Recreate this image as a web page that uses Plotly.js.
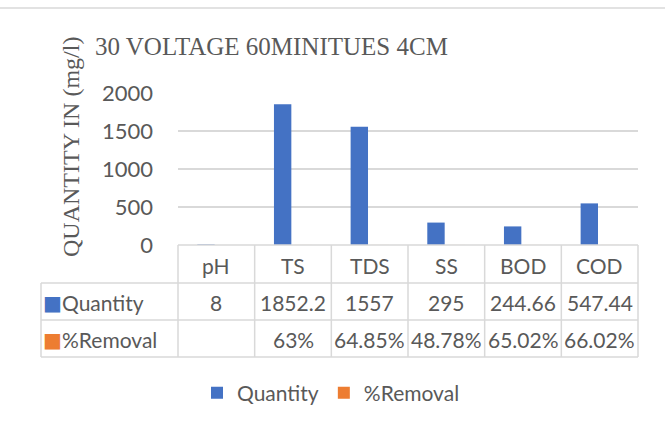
<!DOCTYPE html>
<html>
<head>
<meta charset="utf-8">
<script src="https://cdn.plot.ly/plotly-3.0.1.min.js"></script>
<style>html,body{margin:0;padding:0;background:#fff;}#chart{width:665px;height:427px;}</style>
</head>
<body>
<div id="chart"></div>
<script>
const categories = ['pH', 'TS', 'TDS', 'SS', 'BOD', 'COD'];
const quantity = [8, 1852.2, 1557, 295, 244.66, 547.44];
const removal = [null, 0.63, 0.6485, 0.4878, 0.6502, 0.6602];
const seriesNames = ['Quantity', '%Removal'];
const seriesColors = ['#4472C4', '#ED7D31'];
const yTicks = [0, 500, 1000, 1500, 2000];

const W = 665, H = 427;
const M = {l: 178, r: 27, t: 93, b: 182};
const PW = W - M.l - M.r, PH = H - M.t - M.b;
const px = x => (x - M.l) / PW;           // pixel -> paper x
const py = y => (H - M.b - y) / PH;       // pixel -> paper y
const textColor = '#595959';
const lineColor = '#d9d9d9';
const sans = 'Lato, "Liberation Sans", sans-serif';
const serif = '"Liberation Serif", "DejaVu Serif", serif';

const qLabels = quantity.map(v => String(v));
const rLabels = removal.map(v => v == null ? '' : String(+(v * 100).toFixed(2)) + '%');

const traces = [
  {type: 'bar', name: seriesNames[0], x: categories, y: quantity, marker: {color: seriesColors[0]}, hoverinfo: 'x+y'},
  {type: 'bar', name: seriesNames[1], x: categories, y: removal, marker: {color: seriesColors[1]}, hoverinfo: 'x+y'}
];

const n = categories.length;
const rowY = [245, 283, 320, 357];
const leftX = 41;
const shapes = [];
const line = (x0, y0, x1, y1) => shapes.push({type: 'line', xref: 'paper', yref: 'paper',
  x0: x0, y0: y0, x1: x1, y1: y1, line: {color: lineColor, width: 1.5}});
// top border of the chart frame
line(px(0), py(8), px(W), py(8));
// table horizontal lines
line(0, py(rowY[0]), 1, py(rowY[0]));
for (let r = 1; r < rowY.length; r++) line(px(leftX), py(rowY[r]), 1, py(rowY[r]));
// table vertical lines
line(px(leftX), py(rowY[1]), px(leftX), py(rowY[3]));
for (let i = 0; i <= n; i++) line(i / n, py(rowY[0]), i / n, py(rowY[3]));

const annotations = [];
const cellFont = {family: sans, size: 21, color: textColor};
const rowCenter = r => py((rowY[r] + rowY[r + 1]) / 2 + 1);
const cell = (x, xref, y, text, xanchor, font) => annotations.push({xref: xref, yref: 'paper', x: x, y: y,
  xanchor: xanchor || 'center', yanchor: 'middle', text: text, showarrow: false, font: font || cellFont});
categories.forEach((c, i) => {
  cell(c, 'x', rowCenter(0), c);
  cell(c, 'x', rowCenter(1), qLabels[i]);
  cell(c, 'x', rowCenter(2), rLabels[i]);
});
seriesNames.forEach((s, k) => {
  cell(px(52), 'paper', rowCenter(k + 1), '■', 'center',
    {family: '"DejaVu Sans", sans-serif', size: 20, color: seriesColors[k]});
  cell(px(60), 'paper', rowCenter(k + 1), s, 'left');
});
// y-axis title
annotations.push({xref: 'paper', yref: 'paper', x: px(71), y: py(147), xanchor: 'center', yanchor: 'middle',
  textangle: -90, text: 'QUANTITY IN (mg/l)', showarrow: false,
  font: {family: serif, size: 24, color: textColor}});

const layout = {
  width: W, height: H,
  margin: M,
  paper_bgcolor: '#fff', plot_bgcolor: '#fff',
  title: {text: '30 VOLTAGE 60MINITUES 4CM', xref: 'container', yref: 'container',
    x: 95 / W, xanchor: 'left', y: 1 - 46 / H, yanchor: 'middle',
    font: {family: serif, size: 25, color: textColor}},
  barmode: 'group', bargap: 0.46, bargroupgap: 0.16,
  xaxis: {type: 'category', showticklabels: false, showgrid: false, zeroline: false, showline: false,
    range: [-0.5, n - 0.5], fixedrange: true},
  yaxis: {range: [0, 2000], tickvals: yTicks, showgrid: true, gridcolor: lineColor, gridwidth: 1.5,
    zeroline: false, showline: false, ticks: '', ticklabelstandoff: 24,
    tickfont: {family: sans, size: 22, color: textColor}, fixedrange: true},
  showlegend: true,
  legend: {orientation: 'h', x: px(331), xanchor: 'center', y: py(393), yanchor: 'middle',
    font: {family: sans, size: 21, color: textColor}, itemwidth: 30, traceorder: 'normal'},
  shapes: shapes,
  annotations: annotations
};

Plotly.newPlot('chart', traces, layout, {displayModeBar: false, staticPlot: true});
</script>
</body>
</html>
